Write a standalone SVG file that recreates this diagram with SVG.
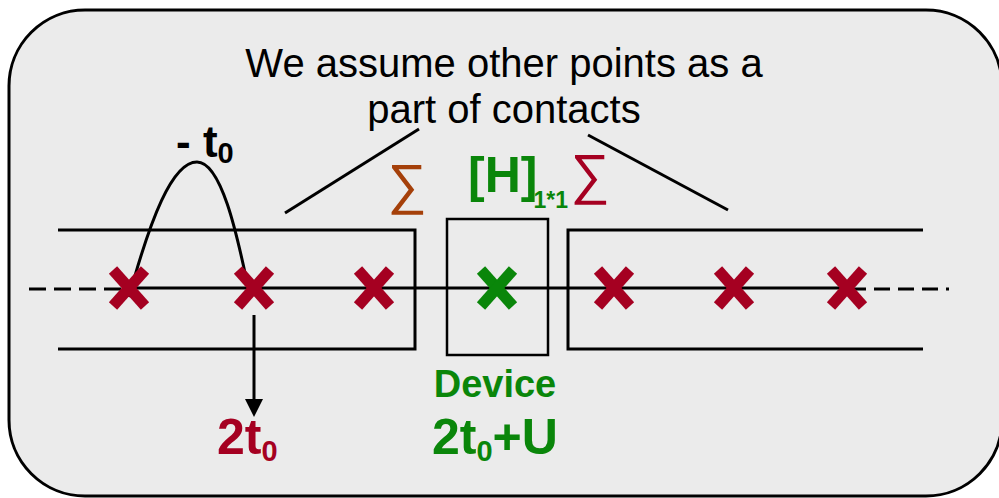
<svg xmlns="http://www.w3.org/2000/svg" width="999" height="498" viewBox="0 0 999 498">
<style>
.ln{fill:none;stroke:#000;stroke-width:3}
.xr{stroke:#a50021;stroke-width:11;fill:none}
.xg{stroke:#0a860a;stroke-width:11;fill:none}
.t{font-family:"Liberation Sans",Arial,sans-serif}
.b{font-weight:bold}
</style>
<defs>
<g id="xm"><line x1="-16" y1="-18" x2="16" y2="18"/><line x1="16" y1="-18" x2="-16" y2="18"/></g>
</defs>
<rect id="frame" x="9" y="10" width="993" height="486" rx="76" ry="76" fill="#ebebeb" stroke="#000" stroke-width="3"/>

<g id="title">
<text class="t" x="504" y="77" font-size="40" text-anchor="middle">We assume other points as a</text>
<text class="t" x="504" y="123" font-size="40" text-anchor="middle">part of contacts</text>
</g>

<g id="connectors">
<line class="ln" x1="285" y1="213" x2="419" y2="129"/>
<line class="ln" x1="588" y1="135" x2="728" y2="210"/>
<line class="ln" x1="130" y1="288" x2="850" y2="288"/>
<line class="ln" x1="29" y1="289" x2="130" y2="289" stroke-dasharray="17 8"/>
<line class="ln" x1="850" y1="289" x2="949" y2="289" stroke-dasharray="16 8"/>
<path class="ln" d="M129,297 C150,220 172,162 197,162 C222,162 238,240 247,282"/>
<line x1="254" y1="315" x2="254" y2="400" stroke="#000" stroke-width="3"/>
<path d="M245,399 L263,399 L254,417 Z" fill="#000"/>
</g>

<g id="left-lead">
<polyline class="ln" points="58,230 415,230 415,349 58,349"/>
</g>
<g id="right-lead">
<polyline class="ln" points="923,230 568,230 568,349 923,349"/>
</g>
<g id="device">
<rect x="447" y="219" width="101" height="136" fill="none" stroke="#000" stroke-width="2.5"/>
<use href="#xm" class="xg" x="497" y="288"/>
</g>

<g id="sites">
<use href="#xm" class="xr" x="129" y="288"/>
<use href="#xm" class="xr" x="254" y="288"/>
<use href="#xm" class="xr" x="374" y="288"/>
<use href="#xm" class="xr" x="614" y="288"/>
<use href="#xm" class="xr" x="734" y="288"/>
<use href="#xm" class="xr" x="847" y="288"/>
</g>

<g id="labels">
<text class="t b" x="176" y="157" font-size="44">- t<tspan font-size="29" dy="6">0</tspan></text>
<text class="t b" x="217" y="454" font-size="50" fill="#a50021">2t<tspan font-size="29" dy="7">0</tspan></text>
<text class="t b" x="495" y="397" font-size="38" fill="#0a860a" text-anchor="middle">Device</text>
<text class="t b" x="432" y="454" font-size="50" fill="#0a860a">2t<tspan font-size="29" dy="7">0</tspan><tspan dy="-7">+U</tspan></text>
<text class="t b" x="468" y="192" font-size="50" fill="#0a860a">[H]<tspan font-size="23" dx="-4" dy="16">1*1</tspan></text>
<text class="t" x="407" y="203" font-size="55" fill="#a5400a" text-anchor="middle">∑</text>
<text class="t" x="590" y="193" font-size="55" fill="#a50021" text-anchor="middle">∑</text>
</g>
</svg>
